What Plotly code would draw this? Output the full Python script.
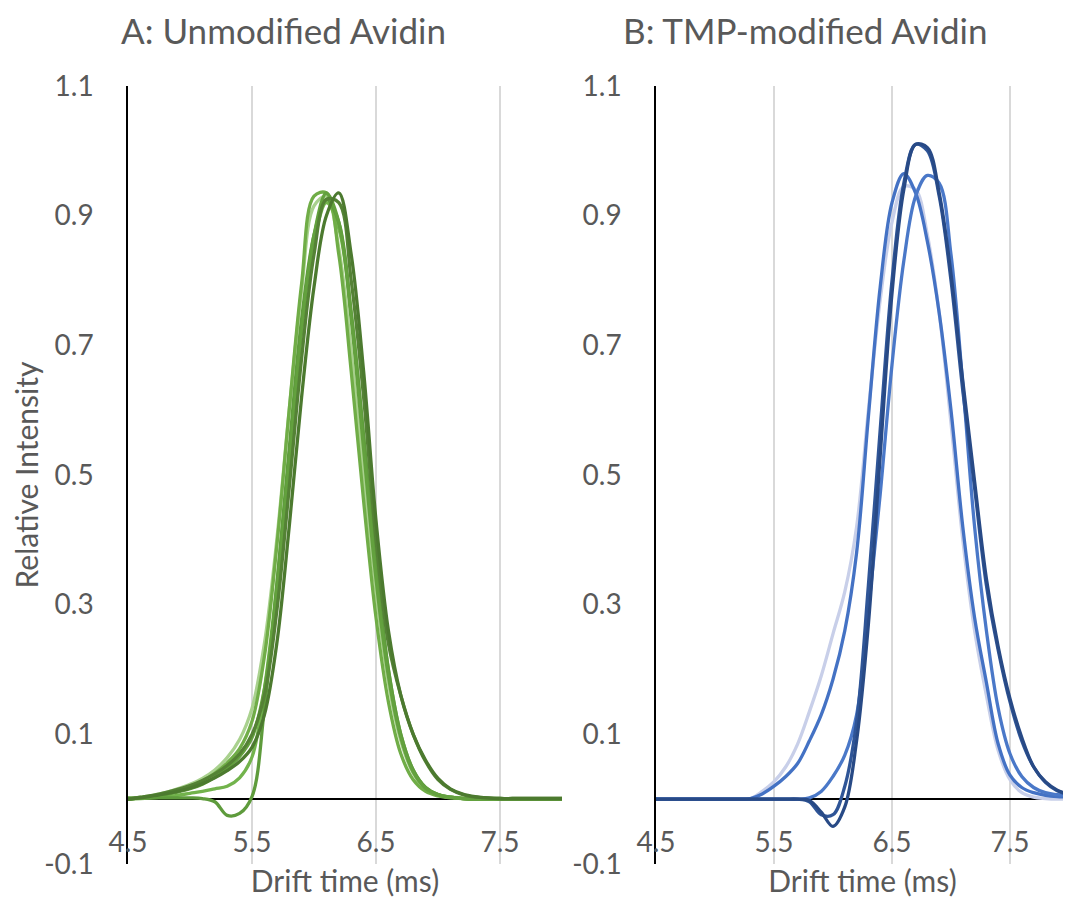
import plotly.graph_objects as go

# ---------------- data ----------------
drift_time = [4.5, 4.6, 4.7, 4.8, 4.9, 5.0, 5.1, 5.2, 5.3, 5.4, 5.5, 5.6, 5.7, 5.8, 5.9, 6.0,
              6.1, 6.2, 6.3, 6.4, 6.5, 6.6, 6.7, 6.8, 6.9, 7.0, 7.1, 7.2, 7.3, 7.4, 7.5, 7.6,
              7.7, 7.8, 7.9, 8.0]

# Panel A: unmodified avidin
a_run1 = [0.000, 0.003, 0.006, 0.010, 0.016, 0.023, 0.032, 0.045, 0.064, 0.092, 0.140, 0.240,
          0.400, 0.600, 0.785, 0.915, 0.930, 0.850, 0.690, 0.500, 0.320, 0.180, 0.090, 0.040,
          0.016, 0.006, 0.003, 0.002, 0.001, 0.001, 0.001, 0, 0, 0, 0, 0]
a_run2 = [0.000, 0.002, 0.005, 0.009, 0.014, 0.020, 0.028, 0.040, 0.056, 0.078, 0.120, 0.220,
          0.390, 0.600, 0.795, 0.930, 0.935, 0.840, 0.660, 0.460, 0.280, 0.150, 0.070, 0.030,
          0.012, 0.005, 0.002, 0.001, 0, 0, 0, 0, 0, 0, 0, 0]
a_run3 = [0, 0.002, 0.004, 0.007, 0.011, 0.016, 0.023, 0.034, 0.048, 0.066, 0.095, 0.170,
          0.320, 0.520, 0.720, 0.870, 0.935, 0.890, 0.740, 0.540, 0.340, 0.190, 0.095, 0.042,
          0.017, 0.007, 0.003, 0.001, 0, 0, 0, 0, 0, 0, 0, 0]
a_run4 = [0, 0.003, 0.006, 0.010, 0.015, 0.021, 0.029, 0.039, 0.052, 0.070, 0.100, 0.160,
          0.290, 0.480, 0.680, 0.840, 0.925, 0.920, 0.800, 0.620, 0.400, 0.240, 0.160, 0.100,
          0.058, 0.030, 0.015, 0.007, 0.003, 0.002, 0.001, 0.001, 0.001, 0.001, 0.001, 0.001]
a_run5 = [0, 0.002, 0.005, 0.008, 0.012, 0.017, 0.024, 0.033, 0.044, 0.058, 0.080, 0.130,
          0.240, 0.420, 0.620, 0.790, 0.900, 0.935, 0.840, 0.660, 0.430, 0.260, 0.160, 0.100,
          0.060, 0.032, 0.016, 0.008, 0.004, 0.002, 0.001, 0.001, 0.001, 0.001, 0.001, 0.001]
a_run6 = [0.002, 0.002, 0.002, 0.002, 0.002, 0.002, 0.001, -0.004, -0.025, -0.022, 0.004, 0.140,
          0.330, 0.540, 0.740, 0.870, 0.925, 0.890, 0.750, 0.560, 0.360, 0.200, 0.100, 0.045,
          0.018, 0.007, 0.003, 0.001, 0, 0, 0, 0, 0, 0, 0, 0]
a_run7 = [0, 0.001, 0.002, 0.004, 0.006, 0.009, 0.012, 0.016, 0.020, 0.033, 0.065, 0.170,
          0.330, 0.530, 0.730, 0.860, 0.920, 0.880, 0.750, 0.560, 0.360, 0.200, 0.100, 0.045,
          0.018, 0.007, 0.003, 0.001, 0, 0, 0, 0, 0, 0, 0, 0]

# Panel B: TMP-modified avidin
b_run1 = [0, 0, 0, 0, 0, 0, 0, 0, 0.001, 0.012, 0.027, 0.050, 0.085, 0.135, 0.190, 0.255,
          0.320, 0.420, 0.600, 0.770, 0.890, 0.945, 0.940, 0.870, 0.750, 0.580, 0.400, 0.260,
          0.160, 0.075, 0.030, 0.010, 0.003, 0.001, 0, 0]
b_run2 = [0, 0, 0, 0, 0, 0, 0, 0, 0.001, 0.008, 0.020, 0.035, 0.055, 0.090, 0.130, 0.185,
          0.260, 0.380, 0.590, 0.790, 0.920, 0.965, 0.935, 0.860, 0.750, 0.600, 0.420, 0.280,
          0.180, 0.085, 0.037, 0.018, 0.010, 0.006, 0.004, 0.003]
b_run3 = [0, 0, 0, 0, 0, 0, 0, 0, 0, 0, 0, 0, 0, 0.002, 0.012, 0.035,
          0.068, 0.130, 0.290, 0.470, 0.670, 0.830, 0.930, 0.962, 0.950, 0.840, 0.640, 0.420,
          0.260, 0.140, 0.070, 0.035, 0.018, 0.010, 0.007, 0.005]
b_run4 = [0, 0, 0, 0, 0, 0, 0, 0, 0, 0, 0, 0, 0, -0.004, -0.024, -0.024,
          0.020, 0.120, 0.330, 0.570, 0.800, 0.950, 1.010, 1.000, 0.930, 0.800, 0.630, 0.480,
          0.330, 0.230, 0.150, 0.090, 0.050, 0.026, 0.013, 0.007]
b_run5 = [0, 0, 0, 0, 0, 0, 0, 0, 0, 0, 0, 0, 0, -0.002, -0.020, -0.042,
          -0.012, 0.090, 0.270, 0.530, 0.780, 0.940, 1.010, 1.005, 0.935, 0.810, 0.645, 0.490,
          0.340, 0.235, 0.155, 0.095, 0.050, 0.027, 0.014, 0.007]

x_ticks = [4.5, 5.5, 6.5, 7.5]
y_ticks = [-0.1, 0.1, 0.3, 0.5, 0.7, 0.9, 1.1]
y_tick_text = ["-0.1", "0.1", "0.3", "0.5", "0.7", "0.9", "1.1"]

panel_a_title = "A: Unmodified Avidin"
panel_b_title = "B: TMP-modified Avidin"

# ---------------- figure ----------------
# page body has an 8px margin, so the figure is 8px smaller and positions are shifted by 8px
W, H = 1063, 896
OFF = 8
TEXT = "#595959"
FONT = "Lato"

fig = go.Figure()

left_series = [
    (a_run1, "#a9d18e"),
    (a_run7, "#72b34c"),
    (a_run2, "#70ad47"),
    (a_run6, "#5e9b3c"),
    (a_run3, "#63a13e"),
    (a_run4, "#548235"),
    (a_run5, "#4c7a2f"),
]
for ys, col in left_series:
    fig.add_trace(go.Scatter(x=drift_time, y=ys, mode="lines", xaxis="x", yaxis="y",
                             line=dict(color=col, width=3.3, shape="spline", smoothing=1.0),
                             showlegend=False, hoverinfo="skip"))

right_series = [
    (b_run1, "#c8cfe9"),
    (b_run2, "#4472c4"),
    (b_run3, "#4a78c8"),
    (b_run4, "#2f5597"),
    (b_run5, "#284a86"),
]
for ys, col in right_series:
    fig.add_trace(go.Scatter(x=drift_time, y=ys, mode="lines", xaxis="x2", yaxis="y2",
                             line=dict(color=col, width=3.3, shape="spline", smoothing=1.0),
                             showlegend=False, hoverinfo="skip"))

def px_x(p):
    return (p - OFF) / W

def px_y(p):
    return 1 - (p - OFF) / H

y_dom = [px_y(864), px_y(86)]

xcommon = dict(range=[4.5, 8.0], tickvals=x_ticks, ticktext=[str(v) for v in x_ticks],
               showgrid=True, gridcolor="#d9d9d9", gridwidth=1.5, zeroline=False,
               showline=False, ticks="", ticklabelposition="inside", ticklabeloverflow="allow",
               ticklabelstandoff=3,
               tickfont=dict(size=28, color=TEXT, family=FONT), fixedrange=True,
               automargin=False)
ycommon = dict(range=[-0.1, 1.1], tickvals=y_ticks, ticktext=y_tick_text, domain=y_dom,
               showgrid=False, zeroline=True, zerolinecolor="black", zerolinewidth=1.5,
               showline=True, linecolor="black", linewidth=1.5, ticks="",
               ticklabelstandoff=27, tickfont=dict(size=28, color=TEXT, family=FONT),
               fixedrange=True, automargin=False)

fig.update_layout(
    width=W, height=H,
    margin=dict(l=0, r=0, t=0, b=0, autoexpand=False),
    paper_bgcolor="white", plot_bgcolor="white",
    font=dict(family=FONT, color=TEXT, size=28),
    showlegend=False,
    xaxis=dict(xcommon, domain=[px_x(128), px_x(562)], anchor="y",
               title=dict(text="Drift time (ms)", font=dict(size=30, color=TEXT, family=FONT),
                          standoff=13)),
    yaxis=dict(ycommon, anchor="x",
               title=dict(text="Relative Intensity", font=dict(size=30, color=TEXT, family=FONT),
                          standoff=21)),
    xaxis2=dict(xcommon, domain=[px_x(656), px_x(1069)], anchor="y2",
                title=dict(text="Drift time (ms)", font=dict(size=30, color=TEXT, family=FONT),
                           standoff=13)),
    yaxis2=dict(ycommon, anchor="x2"),
    annotations=[
        dict(text=panel_a_title, x=px_x(283), y=1.0, xref="paper", yref="paper",
             showarrow=False, xanchor="center", yanchor="top", borderpad=0,
             font=dict(size=35, color=TEXT, family=FONT)),
        dict(text=panel_b_title, x=px_x(805), y=1.0, xref="paper", yref="paper",
             showarrow=False, xanchor="center", yanchor="top", borderpad=0,
             font=dict(size=35, color=TEXT, family=FONT)),
    ],
)

fig.write_html("out.html")
